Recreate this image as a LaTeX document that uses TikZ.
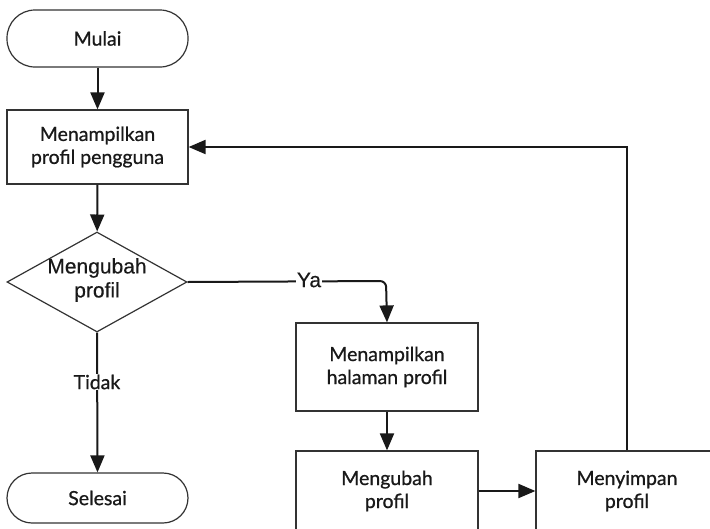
\documentclass[tikz,border=0pt]{standalone}
\usepackage{fontspec}
\setmainfont{Lato}
\newfontfamily\boxfont{Lato}[FakeBold=0.8]
\newfontfamily\arialfont{Liberation Sans}[FakeBold=0.4]
\usetikzlibrary{arrows.meta,shapes.geometric}
\begin{document}
\begin{tikzpicture}[x=1pt,y=-1pt,
  every node/.style={font=\boxfont\fontsize{19.5}{23}\selectfont, align=center, text=black!90},
  shapeline/.style={draw=black!80, line width=1.2pt},
  startstop/.style={shapeline, minimum width=181pt},
  process/.style={shapeline, rectangle, minimum width=182pt, minimum height=88pt, inner sep=0pt},
  decision/.style={shapeline, diamond, minimum width=180pt, minimum height=100pt, aspect=1.8, inner sep=0pt},
  arialtxt/.style={font=\arialfont\fontsize{21}{24}\selectfont},
  flow/.style={line width=2pt, draw=black!90, -{Triangle[length=17pt,width=14pt]}},
  lbl/.style={fill=white, inner sep=1pt}
]
\clip (0,0) rectangle (710,528);
\fill[white] (0,0) rectangle (710,528);

% left column
\node[startstop, rounded corners=28pt, minimum height=57pt] (mulai) at (97.5,38.5) {Mulai};
\node[shapeline, rectangle, minimum width=181pt, minimum height=74pt] (tampil) at (97.5,147) {Menampilkan\\profil pengguna};
\node[decision] (ubah) at (97,282) {};
\node[arialtxt] (ubahtxt) at (97,280) {Mengubah\\profil};
\node[startstop, rounded corners=25pt, minimum height=50pt] (selesai) at (97.5,498) {Selesai};

% right part
\node[process] (halaman) at (387,367) {Menampilkan\\halaman profil};
\node[process] (ubahp) at (387,495) {};
\node (ubahptxt) at (387,491) {Mengubah\\profil};
\node[process] (simpan) at (627,495) {};
\node (simpantxt) at (627,491) {Menyimpan\\profil};

% connectors
\draw[flow] (mulai) -- (tampil);
\draw[flow] (tampil) -- (ubah);
\draw[flow, rounded corners=6pt] (ubah.east) -- (386,281) -- (halaman.north);
\node[lbl, arialtxt] (ya) at (309,280) {Ya};
\draw[flow] (ubah.south) -- (selesai.north);
\node[lbl] (tidak) at (97,382) {Tidak};
\draw[flow] (halaman) -- (ubahp);
\draw[flow] (ubahp.east |- ubahptxt) -- (simpan.west |- ubahptxt);
\draw[flow] (simpan.north) -- (627,147) -- (tampil.east);
\end{tikzpicture}
\end{document}
